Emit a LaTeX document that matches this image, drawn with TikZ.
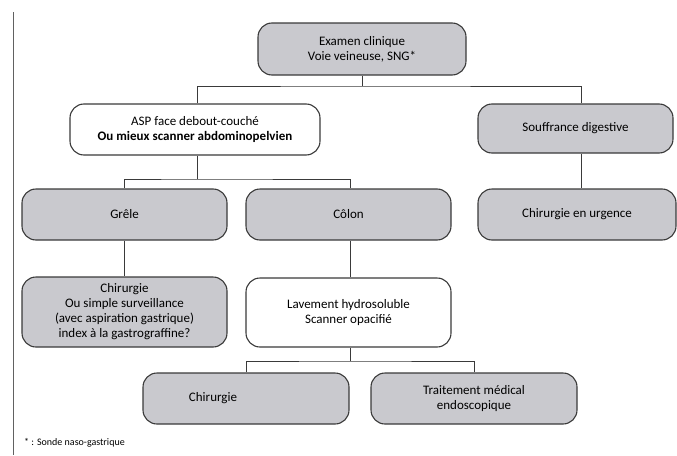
\documentclass[tikz,border=0pt]{standalone}
\usepackage{fontspec}
\setmainfont{Carlito}
\definecolor{boxgray}{HTML}{C9C9CE}
\definecolor{edge}{HTML}{3A3A3A}
\begin{document}
\begin{tikzpicture}[x=1pt,y=-1pt,
  box/.style={draw=edge, line width=1.1pt, rounded corners=14pt, align=center,
    inner sep=0pt, font=\fontsize{13}{15}\selectfont},
  graybox/.style={box, fill=boxgray},
  whitebox/.style={box, fill=white},
  conn/.style={draw=edge, line width=1pt}]
\useasboundingbox (0,0) rectangle (677,455);
\draw[edge!80, line width=1pt] (13,12) -- (13,455);

\node[graybox, minimum width=208pt, minimum height=52pt] (exam) at (362,49)
  {Examen clinique\\Voie veineuse, SNG*};
\node[whitebox, minimum width=250pt, minimum height=51pt] (asp) at (195,129.5)
  {ASP face debout-couché\\\textbf{Ou mieux scanner abdominopelvien}};
\node[graybox, minimum width=195pt, minimum height=49pt] (souf) at (575.5,128.5)
  {Souffrance digestive};
\node[graybox, minimum width=205pt, minimum height=51pt] (grele) at (124.5,214.5)
  {Grêle};
\node[graybox, minimum width=205pt, minimum height=51pt] (colon) at (348.5,214.5)
  {Côlon};
\node[graybox, minimum width=198pt, minimum height=51pt] (urg) at (577,214.5)
  {Chirurgie en urgence};
\node[graybox, minimum width=205pt, minimum height=70pt] (chir1) at (124.5,312)
  {Chirurgie\\Ou simple surveillance\\(avec aspiration gastrique)\\index à la gastrograffine?};
\node[whitebox, minimum width=205pt, minimum height=69pt] (lav) at (348.5,312.5)
  {Lavement hydrosoluble\\Scanner opacifié};
\node[graybox, minimum width=206pt, minimum height=51pt] (chir2) at (246,398.5)
  {Chirurgie\hspace*{66pt}};
\node[graybox, minimum width=206pt, minimum height=51pt] (trait) at (474,398.5)
  {Traitement médical\\endoscopique};

\node[anchor=west, inner sep=0pt, font=\fontsize{10}{12}\selectfont] (fn) at (24,443)
  {* : Sonde naso-gastrique};

\coordinate (b1) at (362,86);
\coordinate (b2) at (197,179);
\coordinate (b3) at (350,361);

\draw[conn] (exam.south) -- (b1);
\draw[conn] (asp.north -| b2) |- (b1) -| (souf.north -| 581,0);
\draw[conn] (souf.south -| 581,0) -- (urg.north -| 581,0);
\draw[conn] (asp.south -| b2) -- (b2);
\draw[conn] (grele.north) |- (b2) -| (colon.north -| b3);
\draw[conn] (grele.south) -- (chir1.north);
\draw[conn] (colon.south -| b3) -- (lav.north -| b3);
\draw[conn] (lav.south -| b3) -- (b3);
\draw[conn] (chir2.north) |- (b3) -| (trait.north);
\end{tikzpicture}
\end{document}
